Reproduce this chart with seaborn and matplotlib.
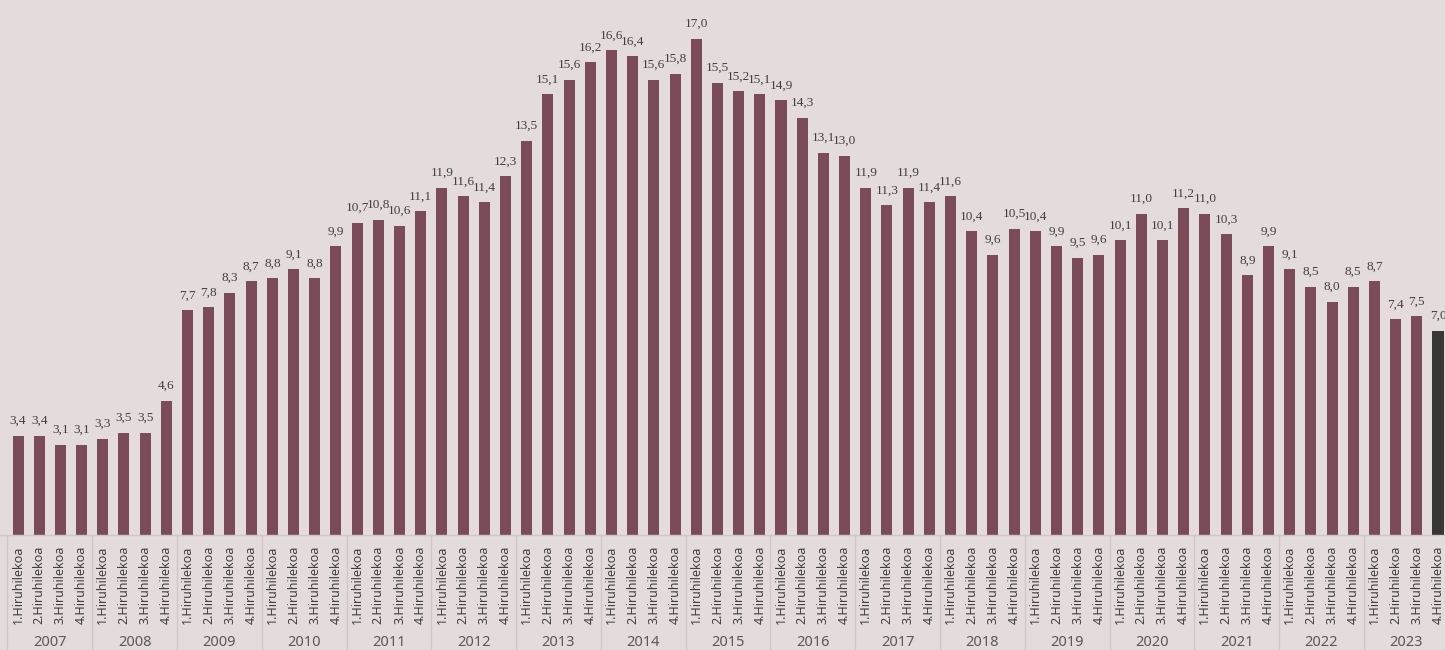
import matplotlib.pyplot as plt
import matplotlib.transforms as mtransforms
import seaborn as sns
import pandas as pd

# Quarterly values, 2007 Q1 - 2023 Q4
years = list(range(2007, 2024))
quarters = ["1.Hiruhilekoa", "2.Hiruhilekoa", "3.Hiruhilekoa", "4.Hiruhilekoa"]
values = [
    3.4, 3.4, 3.1, 3.1,
    3.3, 3.5, 3.5, 4.6,
    7.7, 7.8, 8.3, 8.7,
    8.8, 9.1, 8.8, 9.9,
    10.7, 10.8, 10.6, 11.1,
    11.9, 11.6, 11.4, 12.3,
    13.5, 15.1, 15.6, 16.2,
    16.6, 16.4, 15.6, 15.8,
    17.0, 15.5, 15.2, 15.1,
    14.9, 14.3, 13.1, 13.0,
    11.9, 11.3, 11.9, 11.4,
    11.6, 10.4, 9.6, 10.5,
    10.4, 9.9, 9.5, 9.6,
    10.1, 11.0, 10.1, 11.2,
    11.0, 10.3, 8.9, 9.9,
    9.1, 8.5, 8.0, 8.5,
    8.7, 7.4, 7.5, 7.0,
]

bg = "#e3dbdc"
bar_color = "#7b4b58"
last_color = "#3a3636"

keys = [f"{y}-{q}" for y in years for q in range(1, 5)]
df = pd.DataFrame({"key": keys, "value": values})
df["color"] = [bar_color] * (len(values) - 1) + [last_color]

sns.set_theme(style="white")
plt.rcParams["font.family"] = ["Noto Sans", "DejaVu Sans"]

fig = plt.figure(figsize=(14.45, 6.5), dpi=100)
fig.patch.set_facecolor(bg)
ax = fig.add_axes([0, 115 / 650, 1, 535 / 650])
ax.set_facecolor(bg)

sns.barplot(data=df, x="key", y="value", hue="key", palette=dict(zip(df["key"], df["color"])),
            legend=False, width=0.52, saturation=1, linewidth=0, ax=ax, order=keys)

ax.set_xlim(-0.85, len(values) - 1 + 0.33)
ax.set_ylim(0, 18.33)
ax.set_yticks([])
ax.set_ylabel("")
ax.set_xlabel("")
for s in ["top", "right", "left"]:
    ax.spines[s].set_visible(False)
ax.spines["bottom"].set_color("#cfc6c7")
ax.spines["bottom"].set_linewidth(1)

# data labels
for i, v in enumerate(values):
    ax.text(i, v + 0.3, f"{v:.1f}".replace(".", ","), ha="center", va="bottom",
            fontsize=9.5, color="#404040", family=["Liberation Serif", "DejaVu Serif"])

# quarter tick labels
ax.set_xticks(range(len(values)))
ax.set_xticklabels([quarters[i % 4] for i in range(len(values))], rotation=90,
                   fontsize=9, color="#404040")
ax.tick_params(axis="x", length=0, pad=8)

# year labels and separators
trans = mtransforms.blended_transform_factory(ax.transData, fig.transFigure)
for k, y in enumerate(years):
    ax.text(4 * k + 1.5, 8 / 650, str(y), transform=trans, ha="center", va="center",
            fontsize=10.5, color="#595959")
    ax.plot([4 * k - 0.5, 4 * k - 0.5], [0, 115 / 650], transform=trans,
            color="#d0c7c8", lw=1, clip_on=False)

fig.savefig("out.png", dpi=100, facecolor=bg)
